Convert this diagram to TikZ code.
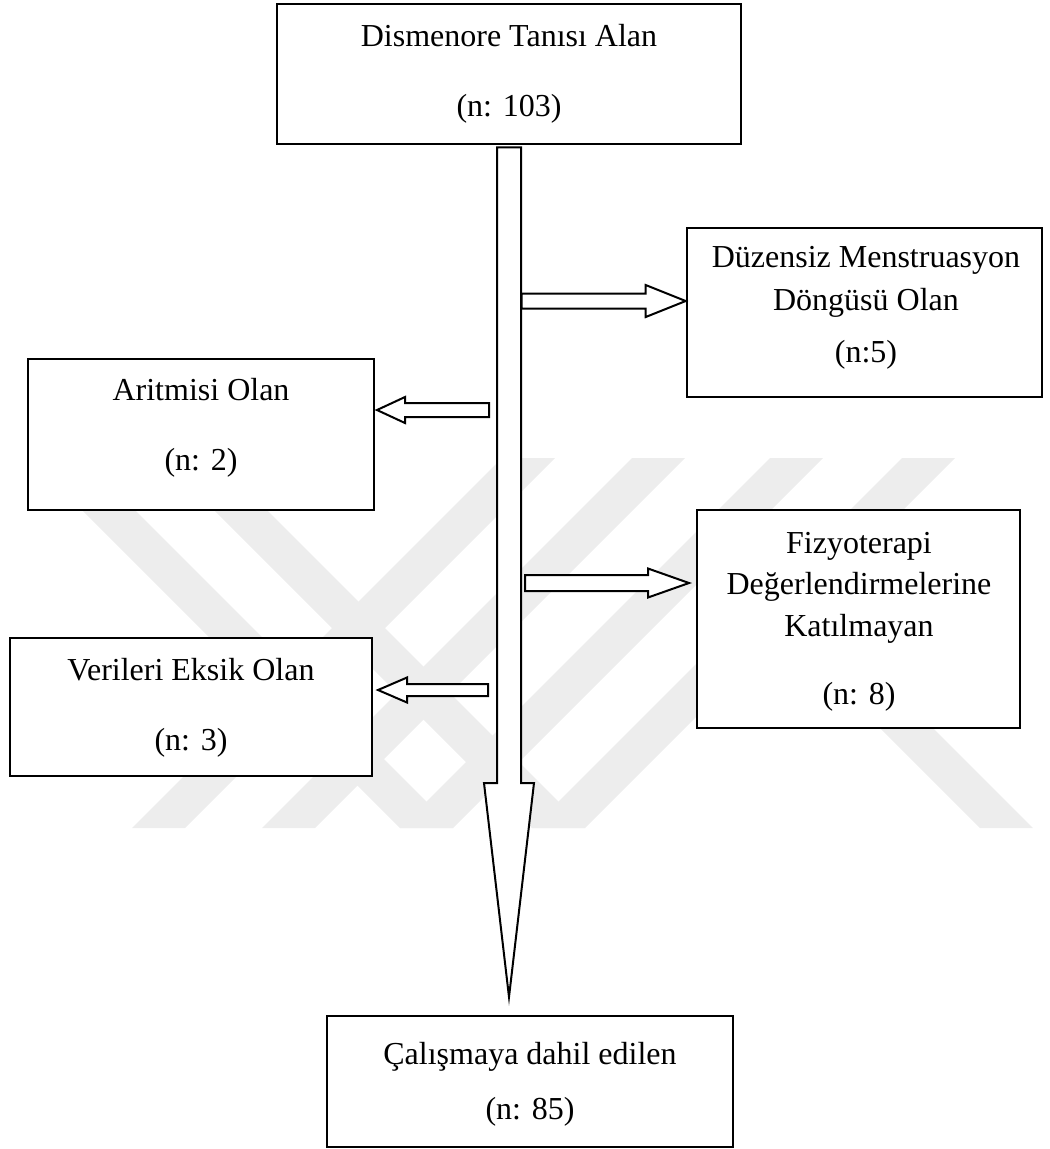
\documentclass[tikz,border=0pt]{standalone}
\usepackage{fontspec}
\setmainfont{Liberation Serif}
\usetikzlibrary{calc,fit}
\begin{document}
\begin{tikzpicture}[x=0.375pt,y=-0.375pt,
  box/.style={draw,line width=1pt,fill=white,inner sep=0pt},
  txt/.style={font=\fontsize{12}{14}\selectfont,inner sep=0pt,anchor=base},
  blk/.style={draw,line width=0.75pt,fill=white,line join=miter},
  wm/.style={fill=black!7}]
\useasboundingbox (0,0) rectangle (1050,1149);

% watermark
\foreach \a in {502,632,770,902}{
  \fill[wm] (\a,458) -- ++(53,0) -- ++(-370,370) -- ++(-53,0) -- cycle;}
\foreach \a in {30,162}{
  \fill[wm] (\a,458) -- ++(53,0) -- ++(370,370) -- ++(-53,0) -- cycle;}
\fill[wm] (752,600) -- ++(53,0) -- ++(228,228) -- ++(-53,0) -- cycle;

% boxes
\node[box,fit={(277,4) (741,144)}] (top) {};
\node[box,fit={(687,228) (1042,397)}] (dz) {};
\node[box,fit={(28,359) (374,510)}] (ar) {};
\node[box,fit={(697,510) (1020,728)}] (fz) {};
\node[box,fit={(10,638) (372,776)}] (ve) {};
\node[box,fit={(327,1016) (733,1147)}] (ca) {};

% texts
\node[txt] (topA) at (509,46) {Dismenore Tanısı Alan};
\node[txt] (topB) at (509,116) {(n: 103)};
\node[txt] (dzA) at (866,267) {Düzensiz Menstruasyon};
\node[txt] (dzB) at (866,310) {Döngüsü Olan};
\node[txt] (dzC) at (866,362) {(n:5)};
\node[txt] (arA) at (201,400) {Aritmisi Olan};
\node[txt] (arB) at (201,470) {(n: 2)};
\node[txt] (fzA) at (859,553) {Fizyoterapi};
\node[txt] (fzB) at (859,594) {Değerlendirmelerine};
\node[txt] (fzC) at (859,636) {Katılmayan};
\node[txt] (fzD) at (859,704) {(n: 8)};
\node[txt] (veA) at (191,680) {Verileri Eksik Olan};
\node[txt] (veB) at (191,750) {(n: 3)};
\node[txt] (caA) at (530,1064) {Çalışmaya dahil edilen};
\node[txt] (caB) at (530,1119) {(n: 85)};

% main arrow
\coordinate (mtop) at ($(top.south)+(0,2)$);
\coordinate (mtip) at (509,997);
\draw[blk] ($(mtop)+(-12,0)$) -- ++(24,0) -- (521,783) -- ++(13,0) -- (mtip) -- ++(-25,-214) -- ++(13,0) -- cycle;

% side arrows
\coordinate (t1) at (dz.west |- 0,301);
\draw[blk] (t1) -- ++(-40,-16) -- ++(0,8.5) -- ++(-124,0) -- ++(0,15) -- ++(124,0) -- ++(0,8.5) -- cycle;
\coordinate (t2) at (689,583);
\draw[blk] (t2) -- ++(-41,-14.5) -- ++(0,6.5) -- ++(-123,0) -- ++(0,16) -- ++(123,0) -- ++(0,6.5) -- cycle;
\coordinate (t3) at (377,410);
\draw[blk] (t3) -- ++(28,-13) -- ++(0,6) -- ++(84,0) -- ++(0,14) -- ++(-84,0) -- ++(0,6) -- cycle;
\coordinate (t4) at (378,690);
\draw[blk] (t4) -- ++(29,-12.5) -- ++(0,6.5) -- ++(81,0) -- ++(0,12) -- ++(-81,0) -- ++(0,6.5) -- cycle;
\end{tikzpicture}
\end{document}
